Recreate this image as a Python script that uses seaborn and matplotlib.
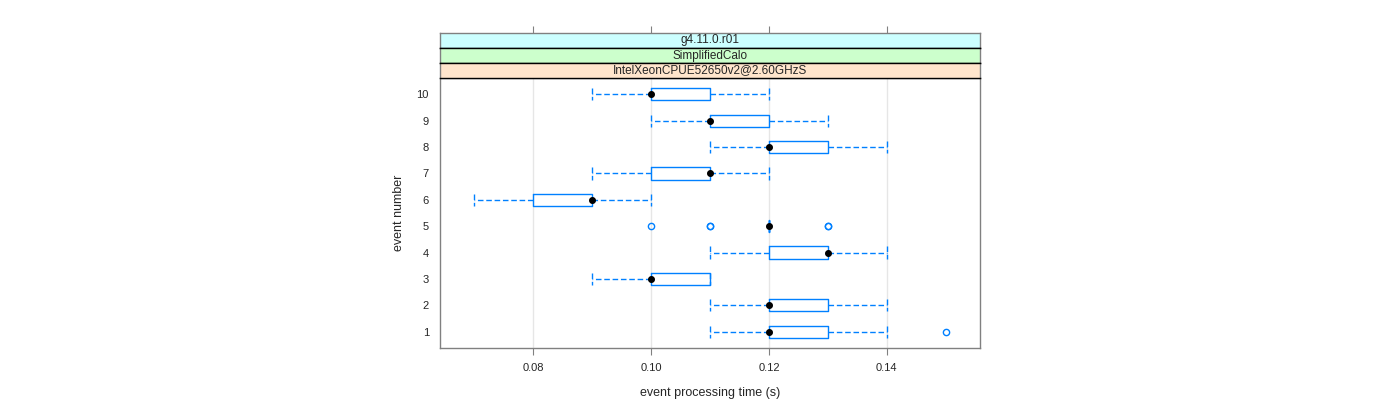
import pandas as pd
import matplotlib
matplotlib.use("Agg")
import matplotlib.pyplot as plt
import seaborn as sns

# -----------------------------
# data: processing time per run (s)
# -----------------------------
event_labels = ["10", "9", "8", "7", "6", "5", "4", "3", "2", "1"]

times_10 = [0.09, 0.10, 0.10, 0.10, 0.10, 0.10, 0.11, 0.11, 0.11, 0.12]
times_9 = [0.10, 0.11, 0.11, 0.11, 0.11, 0.11, 0.12, 0.12, 0.12, 0.13]
times_8 = [0.11, 0.12, 0.12, 0.12, 0.12, 0.12, 0.13, 0.13, 0.13, 0.14]
times_7 = [0.09, 0.10, 0.10, 0.10, 0.11, 0.11, 0.11, 0.11, 0.11, 0.12]
times_6 = [0.07, 0.08, 0.08, 0.08, 0.09, 0.09, 0.09, 0.09, 0.09, 0.10]
times_5 = [0.10, 0.11, 0.11, 0.12, 0.12, 0.12, 0.12, 0.12, 0.12, 0.12,
           0.12, 0.12, 0.12, 0.13, 0.13]
times_4 = [0.11, 0.12, 0.12, 0.12, 0.13, 0.13, 0.13, 0.13, 0.13, 0.14]
times_3 = [0.09, 0.10, 0.10, 0.10, 0.10, 0.10, 0.11, 0.11, 0.11, 0.11]
times_2 = [0.11, 0.12, 0.12, 0.12, 0.12, 0.12, 0.13, 0.13, 0.13, 0.14]
times_1 = [0.11, 0.12, 0.12, 0.12, 0.12, 0.12, 0.13, 0.13, 0.13, 0.14, 0.15]

strip_labels = ["g4.11.0.r01", "SimplifiedCalo", "IntelXeonCPUE52650v2@2.60GHzS"]
strip_colors = ["#CCFFFF", "#CCFFCC", "#FFE5CC"]
x_ticks = [0.08, 0.10, 0.12, 0.14]

all_times = [times_10, times_9, times_8, times_7, times_6,
             times_5, times_4, times_3, times_2, times_1]
rows = []
for lab, ts in zip(event_labels, all_times):
    for t in ts:
        rows.append({"event": lab, "time": t})
df = pd.DataFrame(rows)

# -----------------------------
# style
# -----------------------------
sns.set_style("white")
plt.rcParams["font.family"] = ["Liberation Sans", "DejaVu Sans"]
blue = "#0080ff"
grey = "#808080"

fig = plt.figure(figsize=(14, 4), dpi=100)
ax = fig.add_axes([440 / 1400, 1 - 348 / 400, 540 / 1400, 270 / 400])

for t in x_ticks:
    ax.axvline(t, color="#e6e6e6", lw=1, zorder=0)

sns.boxplot(data=df, x="time", y="event", order=event_labels, ax=ax,
            fill=False, color=blue, width=0.46, whis=1.5, linewidth=1,
            capwidths=0.46,
            medianprops=dict(linewidth=0),
            whiskerprops=dict(linestyle=(0, (4, 2))),
            capprops=dict(linestyle=(0, (4, 2))),
            flierprops=dict(marker="o", markersize=4.5, markerfacecolor="none",
                            markeredgecolor=blue, markeredgewidth=1))

sns.pointplot(data=df, x="time", y="event", order=event_labels, ax=ax,
              estimator="median", errorbar=None, color="black",
              marker="o", markersize=3, linestyle="none")

ax.set_xlim(0.0642, 0.1558)
ax.set_ylim(9.62, -0.62)
ax.set_xticks(x_ticks)
ax.set_xticklabels([f"{t:.2f}" for t in x_ticks])
ax.tick_params(axis="x", direction="out", length=5, color=grey, labelsize=8, pad=6, bottom=True)
ax.tick_params(axis="y", length=0, labelsize=8, pad=8)
ax.set_xlabel("event processing time (s)", fontsize=9, labelpad=10)
ax.set_ylabel("event number", fontsize=9, labelpad=8)
for s in ax.spines.values():
    s.set_color(grey)
    s.set_linewidth(1)

# strips above the panel
for i, (lab, col) in enumerate(zip(strip_labels, strip_colors)):
    top = 33 + 15 * i
    sax = fig.add_axes([440 / 1400, 1 - (top + 15) / 400, 540 / 1400, 15 / 400])
    sax.set_facecolor(col)
    sax.set_xlim(ax.get_xlim())
    sax.set_yticks([])
    sax.text(0.5, 0.5, lab, transform=sax.transAxes, ha="center", va="center", fontsize=8.5)
    for name, s in sax.spines.items():
        s.set_color("black")
        s.set_linewidth(1)
    sax.spines["left"].set_color(grey)
    sax.spines["right"].set_color(grey)
    if i == 0:
        sax.spines["top"].set_color(grey)
        sax.set_xticks(x_ticks)
        sax.tick_params(axis="x", top=True, bottom=False, labeltop=False,
                        labelbottom=False, direction="out", length=5, color=grey)
    else:
        sax.set_xticks([])

fig.savefig("out.png", dpi=100)
